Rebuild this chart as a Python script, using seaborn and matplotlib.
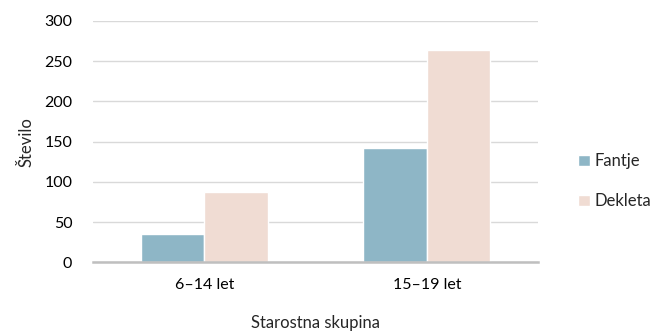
import pandas as pd
import matplotlib.pyplot as plt
import seaborn as sns

# data
groups = ['6–14 let', '15–19 let']
series = ['Fantje', 'Dekleta']
fantje = [35, 142]
dekleta = [87, 264]
colors = ['#8eb6c6', '#f0dcd3']

df = pd.DataFrame({
    'Starostna skupina': groups * 2,
    'Spol': [series[0]] * 2 + [series[1]] * 2,
    'Število': fantje + dekleta,
})

sns.set_style('white')
plt.rcParams['font.family'] = ['Lato', 'DejaVu Sans']

fig = plt.figure(figsize=(6.65, 3.33), dpi=100)
ax = fig.add_axes([0.14, 0.212, 0.669, 0.725])

sns.barplot(data=df, x='Starostna skupina', y='Število', hue='Spol',
            palette=colors, width=0.57, saturation=1, ax=ax, zorder=3)

ax.set_xlim(-0.5, 1.5)
ax.set_ylim(0, 300)
ax.set_yticks(range(0, 301, 50))
ax.yaxis.grid(True, color='#d9d9d9', linewidth=1.0, zorder=0)
for s in ['top', 'right', 'left']:
    ax.spines[s].set_visible(False)
ax.spines['bottom'].set_color('#bfbfbf')
ax.spines['bottom'].set_linewidth(1.8)
ax.spines['bottom'].set_zorder(4)
ax.tick_params(axis='both', length=0, labelsize=11.5, colors='#000000')
ax.tick_params(axis='y', pad=15)
ax.tick_params(axis='x', pad=11)
ax.set_xlabel('Starostna skupina', fontsize=12, labelpad=17)
ax.set_ylabel('Število', fontsize=12, labelpad=7)

leg = ax.legend(loc='center left', bbox_to_anchor=(1.09, 0.336), frameon=False,
                fontsize=12, handlelength=0.7, handleheight=0.7,
                handletextpad=0.3, labelspacing=1.45, borderaxespad=0,
                borderpad=0)

fig.savefig('out.png', dpi=100)
